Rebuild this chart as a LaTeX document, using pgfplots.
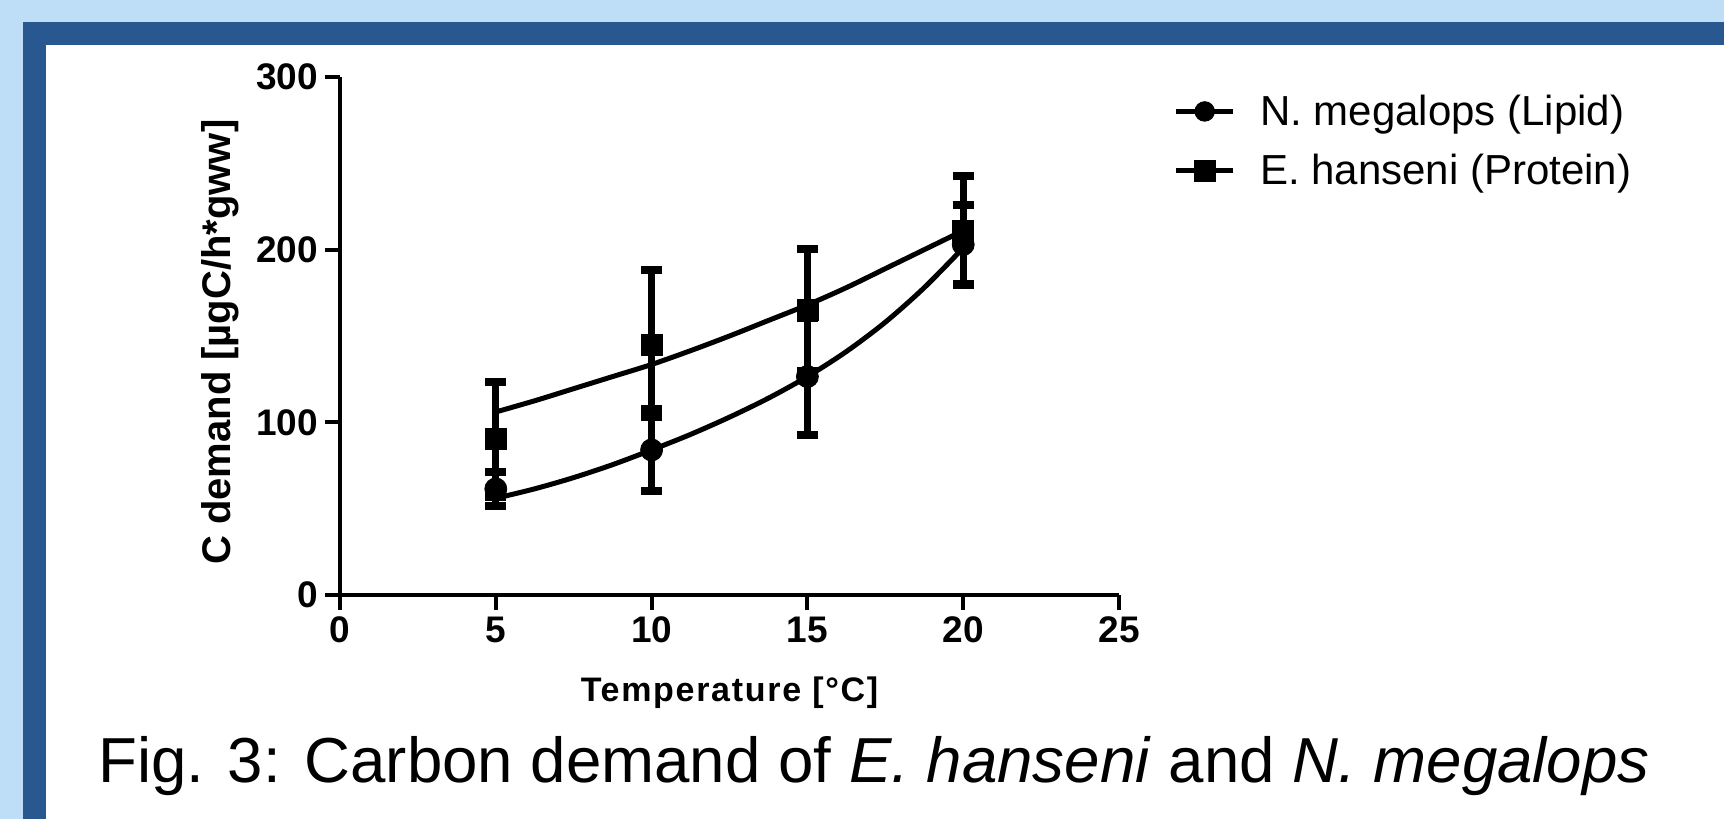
\documentclass[border=0pt]{standalone}
\usepackage{fontspec}
\setmainfont{Liberation Sans}
\usepackage{pgfplots}
\pgfplotsset{compat=1.18}
\definecolor{bgblue}{RGB}{190,221,247}
\definecolor{frameblue}{RGB}{41,88,144}
\begin{document}
\begin{tikzpicture}
\useasboundingbox (0,0) rectangle (862pt,409.5pt);
\fill[bgblue] (0,0) rectangle (862pt,409.5pt);
\fill[frameblue] (11.5pt,0) rectangle (862pt,398.5pt);
\fill[white] (23pt,0) rectangle (862pt,387pt);
\begin{axis}[
  at={(170pt,112pt)}, anchor=south west,
  scale only axis, width=389.5pt, height=259pt,
  xmin=0, xmax=25, ymin=0, ymax=300,
  axis x line*=bottom, axis y line*=left,
  axis line style={line width=2pt,-},
  xtick={0,5,...,25}, ytick={0,100,200,300},
  tick align=outside, major tick length=7.5pt,
  tick style={line width=2pt, black},
  ticklabel style={font=\bfseries\fontsize{18.5}{20}\selectfont},
  /pgf/number format/assume math mode=true,
  xlabel={Temperature [°C]},
  ylabel={C demand [µgC/h*gww]},
  x label style={at={(axis description cs:0.5,-0.189)}, anchor=center, font=\bfseries\fontsize{17}{19}\selectfont\addfontfeature{LetterSpace=5}},
  y label style={at={(axis description cs:-0.154,0.488)}, anchor=center, font=\bfseries\fontsize{20}{24}\selectfont},
  clip=false,
  legend style={at={(axis description cs:1.062,0.982)}, anchor=north west, draw=none, fill=none,
    font=\fontsize{21}{25}\selectfont, row sep=9pt, cells={anchor=west}},
]
% fitted curves
\addplot[black, line width=2.5pt, smooth, forget plot] coordinates {
 (5,106) (6.25,112.5) (7.5,119.5) (8.75,126.5) (10,133.5) (11.25,141.5) (12.5,150)
 (13.75,159) (15,168) (16.25,178) (17.5,189) (18.75,200) (20,211)};
\addplot[black, line width=2.5pt, smooth, forget plot] coordinates {
 (5,56) (6.25,61.5) (7.5,68) (8.75,75.5) (10,84) (11.25,93) (12.5,103)
 (13.75,114) (15,126.5) (16.25,141) (17.5,158) (18.75,178) (20,201)};
% N. megalops (Lipid)
\addplot[black, only marks, mark=*, mark size=5.5pt,
  legend image code/.code={
    \draw[black, line width=2.5pt] (0pt,0pt) -- (28.5pt,0pt);
    \fill[black] (14.25pt,0pt) circle (4.9pt);
    \path[draw=none, fill=none] (0pt,-1pt) rectangle (40pt,1pt);},
  error bars/.cd, y dir=both, y explicit,
  error bar style={line width=3.5pt},
  error mark options={rotate=90, mark size=5.25pt, line width=4pt}]
  coordinates {
  (5,61.4) +- (0,9.8)
  (10,84) +- (0,24)
  (15,126.5) +- (0,34)
  (20,203) += (0,23) -= (0,23.5)
};
\addlegendentry{N. megalops (Lipid)}
% E. hanseni (Protein)
\addplot[black, only marks, mark=square*, mark size=5.25pt,
  legend image code/.code={
    \draw[black, line width=2.5pt] (0pt,0pt) -- (28.5pt,0pt);
    \fill[black] (9pt,-5.25pt) rectangle (19.5pt,5.25pt);
    \path[draw=none, fill=none] (0pt,-1pt) rectangle (40pt,1pt);},
  error bars/.cd, y dir=both, y explicit,
  error bar style={line width=3.5pt},
  error mark options={rotate=90, mark size=5.25pt, line width=4pt}]
  coordinates {
  (5,90.3) +- (0,33.3)
  (10,145) += (0,43) -= (0,42)
  (15,165) +- (0,35.5)
  (20,211) += (0,31.6) -= (0,31)
};
\addlegendentry{E. hanseni (Protein)}
\end{axis}
\node at (437pt,26.5pt) {\fontsize{31.8}{38}\selectfont Fig. 3: Carbon demand of \textit{E. hanseni} and \textit{N. megalops}};
\end{tikzpicture}
\end{document}
